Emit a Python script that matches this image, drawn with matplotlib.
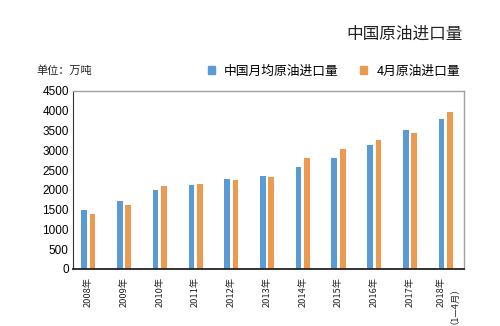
import matplotlib
matplotlib.use("Agg")
import matplotlib.pyplot as plt
from matplotlib.patches import Patch

plt.rcParams['font.family'] = ['Noto Sans CJK SC', 'DejaVu Sans']

categories = ["2008年", "2009年", "2010年", "2011年", "2012年", "2013年",
              "2014年", "2015年", "2016年", "2017年", "2018年\n（1—4月）"]
monthly_avg = [1492, 1719, 2005, 2124, 2275, 2359, 2571, 2806, 3127, 3514, 3800]
april = [1390, 1610, 2090, 2157, 2250, 2318, 2806, 3041, 3269, 3438, 3961]
yticks = [0, 500, 1000, 1500, 2000, 2500, 3000, 3500, 4000, 4500]
series_names = ["中国月均原油进口量", "4月原油进口量"]
title = "中国原油进口量"
unit = "单位：万吨"

blue = "#5B9BD5"
orange = "#EB9A50"

fig = plt.figure(figsize=(5, 3.26), dpi=100)
ax = fig.add_axes([0.146, 0.175, 0.782, 0.546])

x = list(range(len(categories)))
w = 0.16
off = 0.118
ax.bar([i - off for i in x], monthly_avg, width=w, color=blue, zorder=2)
ax.bar([i + off for i in x], april, width=w, color=orange, zorder=2)

ax.set_xlim(-0.43, 10.51)
ax.set_ylim(0, 4500)
ax.set_yticks(yticks)
ax.set_yticklabels([str(v) for v in yticks], family='Liberation Sans', fontsize=8.5)
ax.set_xticks(x)
ax.set_xticklabels(categories, rotation=90, fontsize=6.7, linespacing=0.95,
                   family=['Noto Sans CJK SC'], va='top', ha='center',
                   multialignment='right', color='#222222')
ax.tick_params(axis='both', length=0, pad=3)
ax.tick_params(axis='x', pad=6)

for s in ['top', 'right']:
    ax.spines[s].set_color('#A0A0A0')
    ax.spines[s].set_linewidth(1.0)
ax.spines['left'].set_color('#333333')
ax.spines['bottom'].set_color('#222222')
ax.spines['bottom'].set_linewidth(1.3)

fig.text(0.926, 0.895, title, ha='right', va='center', fontsize=12, color='#222222')
fig.text(0.072, 0.782, unit, ha='left', va='center', fontsize=8, color='#222222')

handles = [Patch(color=blue), Patch(color=orange)]
fig.legend(handles, series_names, loc='center right', bbox_to_anchor=(0.93, 0.782),
           ncol=2, frameon=False, fontsize=9.2, handlelength=0.55, handleheight=0.55,
           handletextpad=0.7, columnspacing=1.7, borderaxespad=0)

fig.savefig("out.png", dpi=100)
